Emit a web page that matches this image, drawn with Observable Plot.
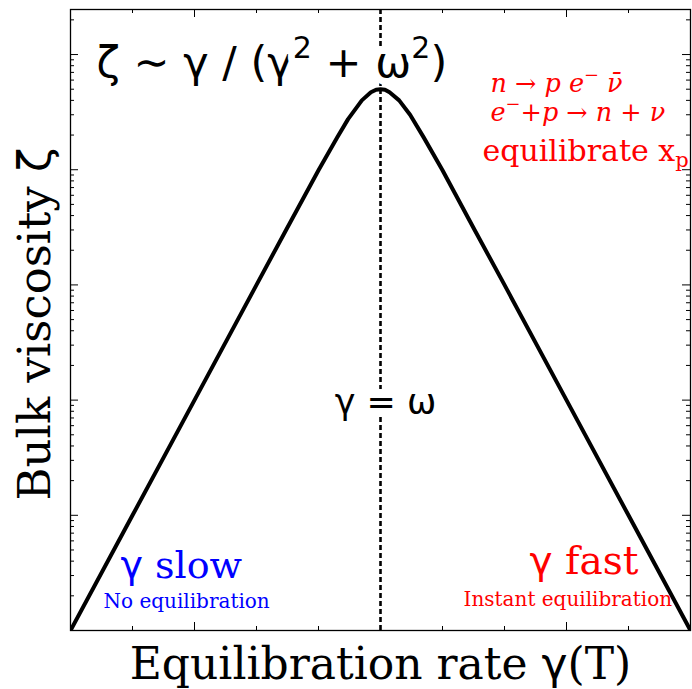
<!DOCTYPE html>
<html>
<head>
<meta charset="utf-8">
<script src="https://cdn.jsdelivr.net/npm/d3@7"></script>
<script src="https://cdn.jsdelivr.net/npm/@observablehq/plot@0.6"></script>
<style>
  html, body { margin: 0; padding: 0; background: #fff; }
  #chart { width: 692px; height: 689px; }
</style>
</head>
<body>
<div id="chart"></div>
<script>
// ---- data (ω = 1) ----
const gamma = [1e-5, 1e-4, 1e-3, 1e-2, 0.03, 0.1, 0.2, 0.3, 0.5, 0.7, 0.85, 1, 1.18, 1.4, 2, 3, 5, 10, 33, 100, 1e3, 1e4, 1e5];
const zeta  = [1e-5, 1e-4, 1e-3, 0.01, 0.03, 0.099, 0.19, 0.275, 0.4, 0.47, 0.495, 0.5, 0.495, 0.47, 0.4, 0.3, 0.19, 0.099, 0.03, 0.01, 1e-3, 1e-4, 1e-5];
const omega = [1];

const xMajorTicks = [1e-3, 1e3];
const xMinorTicks = [1e-4, 1e-2, 1e-1, 1, 10, 100, 1e4];
const yMajorTicks = [1e-4, 1e-3, 1e-2, 1e-1, 1];
const yDecades = [1e-5, 1e-4, 1e-3, 1e-2, 1e-1, 1];
const yMultipliers = [2, 3, 4, 5, 6, 7, 8, 9];

const formulaLabel = "ζ ∼ γ / (γ^{2} + ω^{2})";
const resonanceLabel = "γ = ω";
const reactionLabels = ["n → p e^{−} ν̄", "e^{−}+p → n + ν"];
const equilibrateLabel = "equilibrate x_{p}";
const slowLabel = "γ slow";
const slowSub = "No equilibration";
const fastLabel = "γ fast";
const fastSub = "Instant equilibration";
const xLabel = "Equilibration rate γ(T)";
const yLabel = "Bulk viscosity ζ";

// ---- layout ----
const W = 692, H = 689;
const mL = 70, mR = 2, mT = 9, mB = 59;
const pw = W - mL - mR, ph = H - mT - mB;
const yMinorTicks = yDecades.flatMap(d => yMultipliers.map(m => m * d)).filter(v => v < 2.46);

const serif = "DejaVu Serif";
const sans = "DejaVu Sans";
const txt = (s, o) => Plot.text([s], {text: d => d, lineAnchor: "bottom", ...o});

const chart = Plot.plot({
  width: W, height: H,
  marginLeft: mL, marginRight: mR, marginTop: mT, marginBottom: mB,
  x: {type: "log", domain: [1e-5, 1e5], axis: null},
  y: {type: "log", domain: [1e-5, 2.46], axis: null},
  style: {background: "white"},
  marks: [
    // ticks (inward, on all four sides)
    Plot.tickX(xMinorTicks, {x: d => d, insetTop: ph - 4, stroke: "black"}),
    Plot.tickX(xMajorTicks, {x: d => d, insetTop: ph - 8, stroke: "black"}),
    Plot.tickX(xMinorTicks, {x: d => d, insetBottom: ph - 4, stroke: "black"}),
    Plot.tickX(xMajorTicks, {x: d => d, insetBottom: ph - 8, stroke: "black"}),
    Plot.tickY(yMinorTicks, {y: d => d, insetRight: pw - 4, stroke: "black"}),
    Plot.tickY(yMajorTicks, {y: d => d, insetRight: pw - 8, stroke: "black"}),
    Plot.tickY(yMinorTicks, {y: d => d, insetLeft: pw - 4, stroke: "black"}),
    Plot.tickY(yMajorTicks, {y: d => d, insetLeft: pw - 8, stroke: "black"}),
    Plot.ruleX(omega, {x: d => d, stroke: "black", strokeWidth: 2.6, strokeDasharray: "5,3"}),
    Plot.line(gamma.map((g, i) => ({g, z: zeta[i]})), {x: "g", y: "z", stroke: "black", strokeWidth: 4, clip: true}),
    Plot.frame({stroke: "black", strokeWidth: 1.3}),
    // annotations
    txt(formulaLabel, {frameAnchor: "top-left", textAnchor: "start", dx: 26, dy: 67, fontFamily: sans, fontSize: 43, fill: "black", stroke: "white", strokeWidth: 14, paintOrder: "stroke"}),
    txt(resonanceLabel, {frameAnchor: "top-left", textAnchor: "middle", dx: 315, dy: 404, fontFamily: sans, fontSize: 35, fill: "black", stroke: "white", strokeWidth: 18, paintOrder: "stroke"}),
    txt(reactionLabels[0], {frameAnchor: "top-left", textAnchor: "start", dx: 420, dy: 82, fontFamily: serif, fontStyle: "italic", fontSize: 25.5, fill: "red"}),
    txt(reactionLabels[1], {frameAnchor: "top-left", textAnchor: "start", dx: 420, dy: 111, fontFamily: serif, fontStyle: "italic", fontSize: 25.5, fill: "red"}),
    txt(equilibrateLabel, {frameAnchor: "top-left", textAnchor: "start", dx: 412, dy: 151, fontFamily: serif, fontSize: 30, fill: "red"}),
    txt(slowLabel, {frameAnchor: "top-left", textAnchor: "start", dx: 50, dy: 568, fontFamily: serif, fontSize: 38, fill: "blue"}),
    txt(slowSub, {frameAnchor: "top-left", textAnchor: "start", dx: 33, dy: 598, fontFamily: serif, fontSize: 20, fill: "blue"}),
    txt(fastLabel, {frameAnchor: "top-left", textAnchor: "start", dx: 459, dy: 564, fontFamily: serif, fontSize: 39, fill: "red"}),
    txt(fastSub, {frameAnchor: "top-left", textAnchor: "start", dx: 393, dy: 596, fontFamily: serif, fontSize: 20, fill: "red"}),
    txt(xLabel, {frameAnchor: "bottom", textAnchor: "middle", dy: 48, fontFamily: serif, fontSize: 44, fill: "black"}),
    txt(yLabel, {frameAnchor: "left", textAnchor: "middle", rotate: -90, dx: -21, dy: 4, fontFamily: serif, fontSize: 45, fill: "black"})
  ]
});

// ---- rich text: ^{sup}, _{sub}, Greek glyphs in sans for upright serif labels ----
const NS = "http://www.w3.org/2000/svg";
function attrUp(el, name) {
  const a = el.closest("[" + name + "]");
  return a ? a.getAttribute(name) : null;
}
d3.select(chart).selectAll("text").each(function () {
  const el = this;
  const s = el.textContent;
  const family = attrUp(el, "font-family") || "";
  const italic = attrUp(el, "font-style") === "italic";
  const base = parseFloat(attrUp(el, "font-size")) || 16;
  const greekSans = /Serif/.test(family) && !italic;
  if (!/[_^]\{/.test(s) && !(greekSans && /[\u0370-\u03FF]/.test(s))) return;
  const parts = [];
  const re = /([_^])\{([^}]*)\}/g;
  let last = 0, m;
  while ((m = re.exec(s))) {
    if (m.index > last) parts.push({t: s.slice(last, m.index)});
    parts.push({t: m[2], k: m[1]});
    last = re.lastIndex;
  }
  if (last < s.length) parts.push({t: s.slice(last)});
  el.textContent = "";
  let shift = 0;
  for (const p of parts) {
    const segs = greekSans ? p.t.split(/([\u0370-\u03FF])/).filter(x => x) : [p.t];
    const target = p.k === "^" ? -0.42 * base : p.k === "_" ? 0.22 * base : 0;
    for (const seg of segs) {
      const ts = document.createElementNS(NS, "tspan");
      ts.textContent = seg;
      const dy = target - shift;
      if (dy) ts.setAttribute("dy", dy);
      shift = target;
      if (p.k) ts.setAttribute("font-size", 0.7 * base);
      if (greekSans && /[\u0370-\u03FF]/.test(seg)) ts.setAttribute("font-family", sans);
      el.appendChild(ts);
    }
  }
});

document.getElementById("chart").appendChild(chart);
</script>
</body>
</html>
